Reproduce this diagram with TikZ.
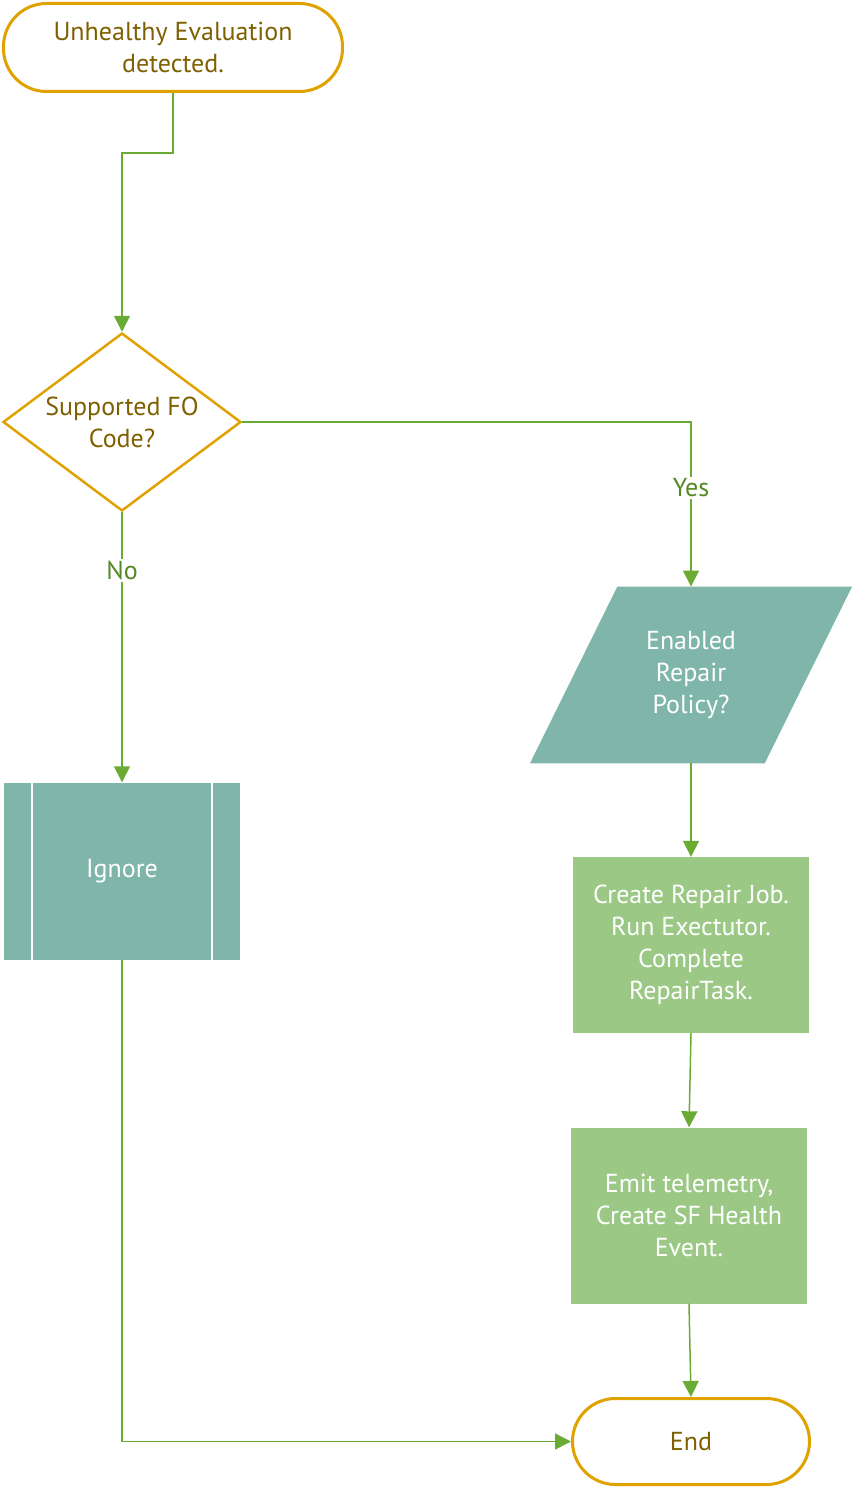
\documentclass[tikz,border=0pt]{standalone}
\usepackage{fontspec}
\setmainfont{PT Sans}
\usetikzlibrary{arrows.meta, shapes.geometric, positioning}

\definecolor{gold}{HTML}{DFA200}
\definecolor{darkgold}{HTML}{7F6000}
\definecolor{flowteal}{HTML}{7FB6A9}
\definecolor{flowgreen}{HTML}{9CC886}
\definecolor{linegreen}{HTML}{6AAB34}
\definecolor{answergreen}{HTML}{548A24}

\begin{document}
\begin{tikzpicture}[x=1pt, y=-1pt, >={Triangle[length=16pt, width=16pt]},
	font=\fontsize{26}{32}\selectfont,
	term/.style={rectangle, rounded corners=43pt, draw=gold, line width=3pt, fill=white, text=darkgold, align=center, minimum width=339, minimum height=88},
	decision/.style={diamond, shape aspect=1.33, draw=gold, line width=2.5pt, fill=white, text=darkgold, align=center, inner sep=0, minimum width=238, minimum height=178},
	io/.style={trapezium, trapezium left angle=63.7, trapezium right angle=116.3, trapezium stretches body, fill=flowteal, text=white, align=center, inner xsep=0, inner ysep=44.5pt, minimum width=322},
	subproc/.style={rectangle, fill=flowteal, text=white, minimum width=236, minimum height=177},
	process/.style={rectangle, fill=flowgreen, text=white, align=center, minimum width=236, minimum height=176},
	divider/.style={white, line width=2.5pt},
	flow/.style={->, draw=linegreen, line width=1.5pt},
	answer/.style={fill=white, text=answergreen, inner sep=2pt}]

		\useasboundingbox (0,0) rectangle (858,1490);

		\node[term] (start) at (173,47.5) {Unhealthy Evaluation\\detected.};
		\node[decision] (fo) at (122,422) {Supported FO\\Code?};
		\node[io] (policy) at (691,675) {Enabled\\Repair\\Policy?};
		\node[subproc] (ign) at (122,871) {Ignore};
		\node[process] (job) at (691,945) {Create Repair Job.\\Run Exectutor.\\Complete\\RepairTask.};
		\node[process] (emit) at (689,1215.5) {Emit telemetry,\\Create SF Health\\Event.};
		\node[term, minimum width=237, minimum height=86] (end) at (691,1441.5) {End};

		\draw[divider] ([xshift=28pt]ign.north west) -- ([xshift=28pt]ign.south west);
		\draw[divider] ([xshift=-28pt]ign.north east) -- ([xshift=-28pt]ign.south east);

		\draw[flow] (start.south) -- ++(0,60) -| (fo.north);
		\draw[flow] (fo.east) -| node[answer, pos=0.7] {Yes} (policy.north -| policy.center);
		\draw[flow] (fo.south) -- node[answer, pos=0.215] {No} (ign.north);
		\draw[flow] (policy.south -| policy.center) -- (job.north);
		\draw[flow] (job.south) -- (emit.north);
		\draw[flow] (emit.south) -- (end.north);
		\draw[flow] (ign.south) |- (end.west);

\end{tikzpicture}
\end{document}
